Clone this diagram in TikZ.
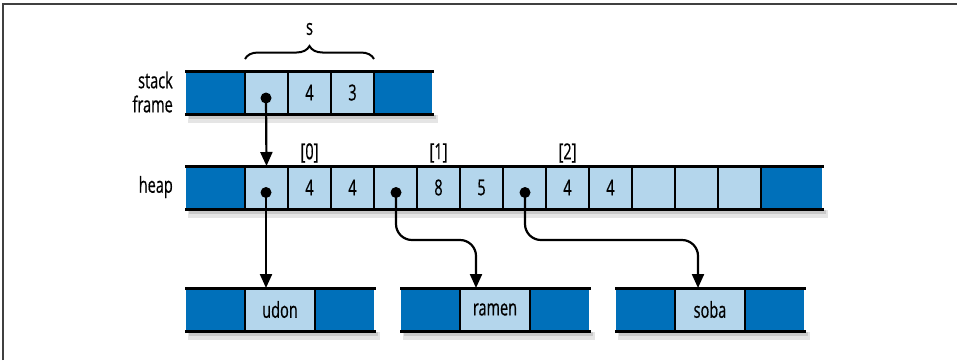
\documentclass[tikz,border=0pt]{standalone}
\usepackage{fontspec}
\setmainfont[FakeStretch=0.66,FakeBold=0.5]{Open Sans}
\usetikzlibrary{arrows.meta,decorations.pathreplacing,backgrounds,calc}
\definecolor{darkb}{HTML}{0070BA}
\definecolor{lightb}{HTML}{B4D6EC}
\begin{document}
\begin{tikzpicture}[x=1pt,y=-1pt,
  font=\fontsize{22}{26}\selectfont,
  lcell/.style={fill=lightb, minimum width=43pt, minimum height=43pt, inner sep=0pt, outer sep=0pt},
  wcell/.style={lcell, minimum width=70pt},
  dcell/.style={fill=darkb, minimum width=59pt, minimum height=43pt, inner sep=0pt, outer sep=0pt},
  rail/.style={line width=3pt, line cap=rect},
  divline/.style={line width=2.2pt},
  dot/.style={circle, fill=black, inner sep=0pt, minimum size=11pt},
  ptr/.style={line width=2.2pt, -{Triangle[length=14pt,width=12pt]}},
  lbl/.style={inner sep=0pt}]
\useasboundingbox (0,0) rectangle (957,360);
\draw[line width=1.6pt, black!75] (3,360) -- (3,4) -- (957,4);

% stack frame
\node[dcell] (sL) at (215.5,92.5) {};
\node[lcell] (s1) at (266.5,92.5) {};
\node[lcell] (s2) at (309.5,92.5) {4};
\node[lcell] (s3) at (352.5,92.5) {3};
\node[dcell, minimum width=58pt] (sR) at (403,92.5) {};
\foreach \n in {s1,s2,s3} {\draw[divline] (\n.north west) -- (\n.south west) (\n.north east) -- (\n.south east);}
\draw[rail] (sL.north west) -- (sR.north east);
\draw[rail] (sL.south west) -- (sR.south east);

% heap
\node[dcell] (hL) at (215.5,187.5) {};
\node[lcell] (h1) at (266.5,187.5) {};
\node[lcell] (h2) at (309.5,187.5) {4};
\node[lcell] (h3) at (352.5,187.5) {4};
\node[lcell] (h4) at (395.5,187.5) {};
\node[lcell] (h5) at (438.5,187.5) {8};
\node[lcell] (h6) at (481.5,187.5) {5};
\node[lcell] (h7) at (524.5,187.5) {};
\node[lcell] (h8) at (567.5,187.5) {4};
\node[lcell] (h9) at (610.5,187.5) {4};
\node[lcell] (h10) at (653.5,187.5) {};
\node[lcell] (h11) at (696.5,187.5) {};
\node[lcell] (h12) at (739.5,187.5) {};
\node[dcell, minimum width=61pt] (hR) at (791.5,187.5) {};
\foreach \n in {h1,h2,h3,h4,h5,h6,h7,h8,h9,h10,h11,h12} {\draw[divline] (\n.north west) -- (\n.south west) (\n.north east) -- (\n.south east);}
\draw[rail] (hL.north west) -- (hR.north east);
\draw[rail] (hL.south west) -- (hR.south east);

% strings
\node[dcell] (uL) at (215.5,309.5) {};
\node[wcell] (u) at (280,309.5) {udon};
\node[dcell] (uR) at (344.5,309.5) {};
\node[dcell] (rL) at (430.5,309.5) {};
\node[wcell] (r) at (495,309.5) {ramen};
\node[dcell] (rR) at (559.5,309.5) {};
\node[dcell] (bL) at (645.5,309.5) {};
\node[wcell] (b) at (710,309.5) {soba};
\node[dcell] (bR) at (774.5,309.5) {};
\foreach \n in {u,r,b} {\draw[divline] (\n.north west) -- (\n.south west) (\n.north east) -- (\n.south east);}
\foreach \a/\b in {uL/uR,rL/rR,bL/bR} {
  \draw[rail] (\a.north west) -- (\b.north east);
  \draw[rail] (\a.south west) -- (\b.south east);}

% shadows
\begin{pgfonlayer}{background}
\foreach \a/\b in {sL/sR,hL/hR,uL/uR,rL/rR,bL/bR} {
  \fill[black, opacity=0.10] ($(\a.south west)+(2,1)$) rectangle ($(\b.south east)+(6,9)$);
  \fill[black, opacity=0.12] ($(\a.south west)+(3,1)$) rectangle ($(\b.south east)+(4,5)$);}
\end{pgfonlayer}

% labels
\node[lbl, anchor=east] (lstack) at (173,80) {stack};
\node[lbl, anchor=east] (lframe) at (173,104) {frame};
\node[lbl, anchor=east] (lheap) at (173,187) {heap};
\node[lbl] (i0) at (309.5,153) {[0]};
\node[lbl] (i1) at (438.5,153) {[1]};
\node[lbl] (i2) at (567.5,153) {[2]};
\node[lbl] (sname) at (309.5,29) {s};
\draw[decorate, decoration={brace, amplitude=13pt}, line width=2pt] (245,59) -- (374,59);

% pointers
\node[dot] (sd) at (266,98) {};
\node[dot] (hd1) at (266,192.5) {};
\node[dot] (hd4) at (396,192.5) {};
\node[dot] (hd7) at (525,192.5) {};
\coordinate (ua) at (266,288);
\coordinate (ra) at (476,288);
\coordinate (ba) at (698,288);
\coordinate (rk) at (440,240);
\coordinate (bk) at (600,240);
\draw[ptr] (sd.center) -- (h1.north);
\draw[ptr] (hd1.center) -- (ua);
\draw[ptr, rounded corners=16pt] (hd4.center) |- (rk) -| (ra);
\draw[ptr, rounded corners=16pt] (hd7.center) |- (bk) -| (ba);
\end{tikzpicture}
\end{document}
